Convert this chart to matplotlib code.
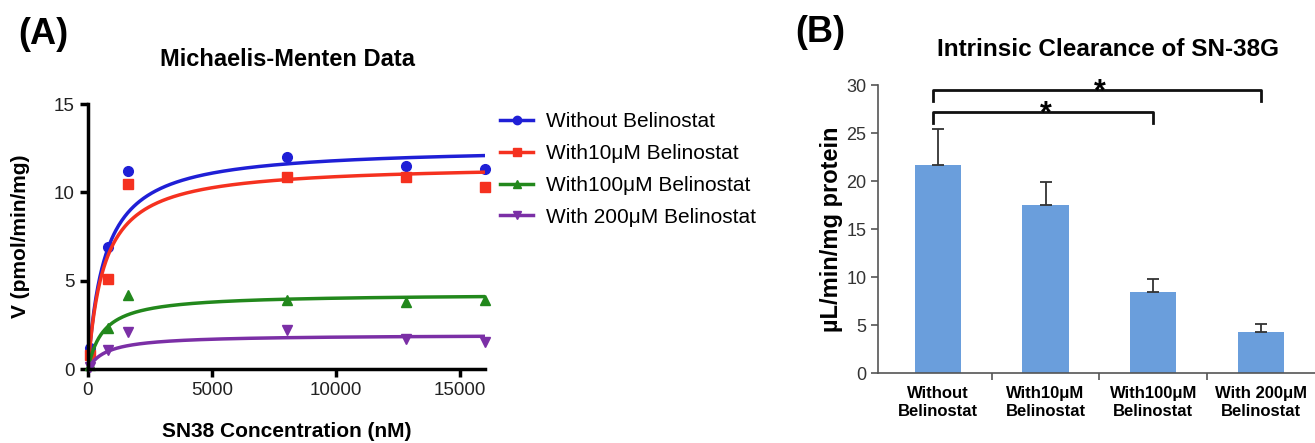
import numpy as np
import matplotlib
matplotlib.use("Agg")
import matplotlib.pyplot as plt

plt.rcParams['font.family'] = ['Liberation Sans', 'DejaVu Sans']

# (A) Michaelis-Menten data
conc = [100, 800, 1600, 8000, 12800, 16000]
v_without = [1.2, 6.9, 11.2, 12.0, 11.5, 11.3]
v_10 = [0.8, 5.1, 10.5, 10.9, 10.9, 10.3]
v_100 = [0.25, 2.3, 4.2, 3.9, 3.8, 3.9]
v_200 = [0.1, 1.05, 2.1, 2.2, 1.7, 1.55]
# fitted parameters (Vmax, Km)
vmax = [12.6, 11.6, 4.26, 1.94]
km = [680, 650, 620, 750]
series_names = ["Without Belinostat", "With10\u03bcM Belinostat",
                "With100\u03bcM Belinostat", "With 200\u03bcM Belinostat"]

# (B) intrinsic clearance
groups = ["Without\nBelinostat", "With10\u03bcM\nBelinostat",
          "With100\u03bcM\nBelinostat", "With 200\u03bcM\nBelinostat"]
clint = [21.7, 17.5, 8.4, 4.3]
clint_err = [3.7, 2.4, 1.4, 0.8]

colors = ['#1f1fd6', '#f5311f', '#22881c', '#7b2fa6']
markers = ['o', 's', '^', 'v']

W, H = 1315, 443
fig = plt.figure(figsize=(W / 100, H / 100), dpi=100)

# ---- panel A ----
ax1 = fig.add_axes([0.0669, 0.167, 0.302, 0.598])
xs = np.linspace(0, 16000, 400)
for vals, vm, k, c, m, name in zip([v_without, v_10, v_100, v_200], vmax, km,
                                   colors, markers, series_names):
    ax1.plot(xs, vm * xs / (k + xs), color=c, lw=2.5)
    ax1.plot(conc, vals, ls='none', marker=m, color=c, ms=7, clip_on=False)
    ax1.plot([], [], color=c, lw=2.5, marker=m, ms=6, label=name)
ax1.set_xlim(0, 16000)
ax1.set_ylim(0, 15)
ax1.set_xticks([0, 5000, 10000, 15000])
ax1.set_yticks([0, 5, 10, 15])
for s in ['top', 'right']:
    ax1.spines[s].set_visible(False)
for s in ['left', 'bottom']:
    ax1.spines[s].set_linewidth(2.5)
ax1.tick_params(direction='out', width=2.5, length=6, labelsize=13.5,
                labelcolor='#222222')
ax1.set_xlabel("SN38 Concentration (nM)", fontsize=15, fontweight='bold',
               va='center')
ax1.xaxis.set_label_coords(0.5, -0.237)
ax1.set_ylabel("V (pmol/min/mg)", fontsize=15, fontweight='bold',
               va='center')
ax1.yaxis.set_label_coords(-0.171, 0.5)
fig.text(287 / W, 1 - 60 / H, "Michaelis-Menten Data", fontsize=17,
         fontweight='bold', ha='center', va='center')
ax1.legend(loc='upper left', bbox_to_anchor=(500 / W, 1 - 112 / H),
           bbox_transform=fig.transFigure, frameon=False, fontsize=15,
           handlelength=1.6, labelspacing=0.62, handletextpad=0.6,
           borderpad=0, borderaxespad=0)
fig.text(18 / W, 1 - 34 / H, "(A)", fontsize=26, fontweight='bold',
         va='center')

# ---- panel B ----
ax2 = fig.add_axes([0.668, 0.158, 0.332, 0.650])
pos = np.arange(len(groups))
ax2.bar(pos, clint, width=0.43, color='#6a9edc', zorder=2)
ax2.errorbar(pos, clint, yerr=[np.zeros(len(clint)), clint_err], fmt='none',
             ecolor='#333333', elinewidth=1.3, capsize=4, capthick=1.3, zorder=3)
ax2.set_xlim(-0.55, 3.5)
ax2.set_ylim(0, 30)
ax2.set_yticks([0, 5, 10, 15, 20, 25, 30])
ax2.set_xticks(pos)
ax2.set_xticklabels(groups, fontsize=12, fontweight='bold', linespacing=1.3)
ax2.set_xticks([0.5, 1.5, 2.5], minor=True)
ax2.tick_params(axis='x', which='major', length=0, pad=9)
ax2.tick_params(axis='x', which='minor', length=5, width=1.2, color='#555555')
ax2.tick_params(axis='y', direction='out', length=5, width=1.2,
                color='#555555', labelsize=13, labelcolor='#333333')
for s in ['top', 'right']:
    ax2.spines[s].set_visible(False)
for s in ['left', 'bottom']:
    ax2.spines[s].set_color('#555555')
    ax2.spines[s].set_linewidth(1.2)
ax2.set_ylabel("\u00b5L/min/mg protein", fontsize=17, fontweight='bold',
               va='center')
ax2.yaxis.set_label_coords(-0.108, 0.5)
fig.text(1108 / W, 1 - 50 / H, "Intrinsic Clearance of SN-38G", fontsize=17.5,
         fontweight='bold', ha='center', va='center')

# significance brackets
brackets = [(0, 3, 29.5, 28.3), (0, 2, 27.2, 26.0)]
for x0, x1, top, bot in brackets:
    ax2.plot([x0 - 0.04, x0 - 0.04, x1, x1], [bot, top, top, bot],
             color='#111111', lw=2, clip_on=False, solid_joinstyle='round')
    ax2.text((x0 + x1) / 2, top - 1.05, "*", ha='center', va='baseline',
             fontsize=22, fontweight='bold')
fig.text(795 / W, 1 - 33 / H, "(B)", fontsize=26, fontweight='bold',
         va='center')

fig.savefig("out.png", dpi=100)
